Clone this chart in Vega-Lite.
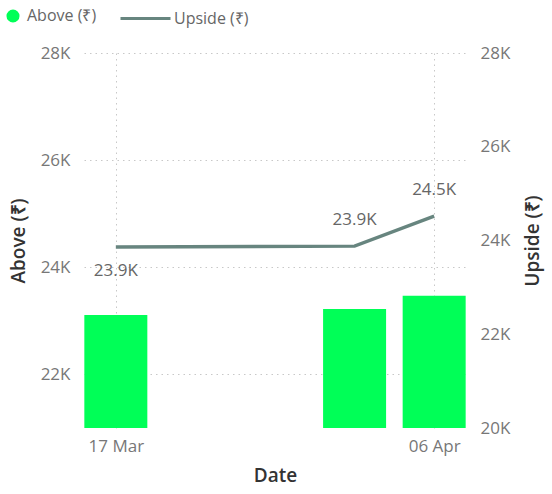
{
  "$schema": "https://vega.github.io/schema/vega-lite/v6.json",
  "width": 382,
  "height": 375,
  "autosize": {"type": "none"},
  "padding": {"left": 84, "top": 53, "right": 86, "bottom": 66},
  "config": {
    "font": "Open Sans",
    "view": {"stroke": null},
    "axis": {
      "domain": false,
      "ticks": false,
      "tickSize": 0,
      "labelFontSize": 17,
      "labelColor": "#777777",
      "titleFontSize": 19,
      "titleFontWeight": 600,
      "titleColor": "#333333",
      "gridColor": "#c8c8c8",
      "gridDash": [1.5, 4]
    },
    "legend": {
      "labelFontSize": 16,
      "labelColor": "#666666",
      "title": null
    }
  },
  "data": {
    "values": [
      {"date": "2024-03-17T00:00:00", "above": 23110, "upside": 23860},
      {"date": "2024-04-01T00:00:00", "above": 23220, "upside": 23880},
      {"date": "2024-04-06T00:00:00", "above": 23470, "upside": 24520}
    ]
  },
  "encoding": {
    "x": {
      "field": "date",
      "type": "temporal",
      "title": "Date",
      "scale": {"domain": [{"year": 2024, "month": 3, "date": 15}, {"year": 2024, "month": 4, "date": 8}], "padding": 0},
      "axis": {
        "values": [{"year": 2024, "month": 3, "date": 17}, {"year": 2024, "month": 4, "date": 6}],
        "format": "%d %b",
        "labelPadding": 10,
        "titlePadding": 12,
        "grid": true
      }
    }
  },
  "layer": [
    {
      "mark": {"type": "bar", "size": 63, "clip": true},
      "encoding": {
        "y": {
          "field": "above",
          "type": "quantitative",
          "title": "Above (₹)",
          "scale": {"domain": [21000, 28000], "nice": false, "zero": false},
          "axis": {
            "orient": "left",
            "values": [22000, 24000, 26000, 28000],
            "labelExpr": "(datum.value/1000) + 'K'",
            "labelPadding": 14,
            "titlePadding": 12,
            "grid": true
          }
        },
        "fill": {
          "datum": "Above (₹)",
          "scale": {"range": ["#00FF57"]},
          "legend": {"orient": "none", "legendX": -79, "legendY": -45, "symbolType": "circle", "symbolSize": 170, "labelOffset": 6}
        }
      }
    },
    {
      "encoding": {
        "y": {
          "field": "upside",
          "type": "quantitative",
          "title": "Upside (₹)",
          "scale": {"domain": [20000, 28000], "nice": false, "zero": false},
          "axis": {
            "orient": "right",
            "values": [20000, 22000, 24000, 26000, 28000],
            "labelExpr": "(datum.value/1000) + 'K'",
            "labelPadding": 14,
            "titlePadding": 33,
            "titleAngle": 270,
            "grid": false
          }
        }
      },
      "layer": [
        {
          "mark": {"type": "line", "strokeWidth": 3.5},
          "encoding": {
            "stroke": {
              "datum": "Upside (₹)",
              "scale": {"range": ["#67857F"]},
              "legend": {"orient": "none", "legendX": 35, "legendY": -61, "symbolType": "stroke", "symbolSize": 2500, "symbolStrokeWidth": 3, "labelOffset": 2}
            }
          }
        },
        {
          "transform": [
            {"filter": {"field": "date", "equal": {"year": 2024, "month": 3, "date": 17}}},
            {"calculate": "format(datum.upside/1000, '.1f') + 'K'", "as": "label"}
          ],
          "mark": {"type": "text", "dy": 24, "fontSize": 17, "color": "#666666", "baseline": "middle"},
          "encoding": {"text": {"field": "label"}}
        },
        {
          "transform": [
            {"filter": {"not": {"field": "date", "equal": {"year": 2024, "month": 3, "date": 17}}}},
            {"calculate": "format(datum.upside/1000, '.1f') + 'K'", "as": "label"}
          ],
          "mark": {"type": "text", "dy": -26, "fontSize": 17, "color": "#666666", "baseline": "middle"},
          "encoding": {"text": {"field": "label"}}
        }
      ]
    }
  ],
  "resolve": {"scale": {"y": "independent"}}
}
